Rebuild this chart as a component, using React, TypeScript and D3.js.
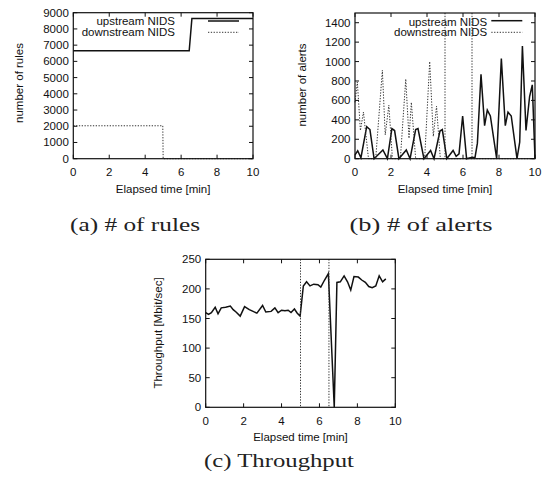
import React from 'react';
import * as d3 from 'd3';

// ---------- data ----------
const timeTicks = [0, 2, 4, 6, 8, 10];
const rulesTicks = [0, 1000, 2000, 3000, 4000, 5000, 6000, 7000, 8000, 9000];
const alertsTicks = [0, 200, 400, 600, 800, 1000, 1200, 1400];
const throughputTicks = [0, 50, 100, 150, 200, 250];

const seriesNames = ['upstream NIDS', 'downstream NIDS'];

const rulesUpT = [0, 6.45, 6.6, 10];
const rulesUpV = [6650, 6650, 8650, 8650];
const rulesDownT = [0, 4.98, 5.0, 10];
const rulesDownV = [2030, 2030, 0, 0];

const alertsUpT = [0, 0.15, 0.33, 0.65, 0.83, 1.06, 1.55, 1.8, 2.05, 2.2, 2.44, 2.85, 3.06, 3.37, 3.5, 3.83, 4.2, 4.39, 4.72, 4.85, 5.1, 5.45, 5.62, 5.78, 5.98, 6.2, 6.4, 6.67, 6.8, 7.0, 7.2, 7.35, 7.52, 7.87, 8.13, 8.35, 8.5, 8.68, 9.0, 9.15, 9.3, 9.5, 9.7, 9.85, 10];
const alertsUpV = [40, 82, 10, 330, 300, 0, 90, 0, 310, 290, 0, 90, 0, 300, 310, 0, 85, 0, 285, 300, 0, 85, 25, 50, 440, 0, 10, 15, 160, 870, 340, 500, 440, 0, 1030, 340, 480, 440, 0, 170, 1160, 290, 640, 760, 0];

const alertsDownT = [0, 0.13, 0.3, 0.47, 0.75, 1.15, 1.52, 1.68, 1.88, 2.08, 2.52, 2.82, 3.0, 3.13, 3.37, 3.87, 4.15, 4.35, 4.53, 4.74, 10];
const alertsDownV = [580, 790, 290, 480, 0, 0, 910, 245, 550, 0, 0, 820, 210, 580, 0, 0, 1000, 230, 540, 0, 0];

const throughputT = [0, 0.15, 0.3, 0.5, 0.65, 0.82, 1.05, 1.3, 1.45, 1.6, 1.82, 2.05, 2.3, 2.5, 2.7, 3.0, 3.17, 3.45, 3.65, 3.82, 4.0, 4.18, 4.35, 4.5, 4.68, 4.83, 4.98, 5.15, 5.32, 5.5, 5.7, 5.92, 6.07, 6.27, 6.47, 6.78, 6.92, 7.1, 7.3, 7.48, 7.65, 7.82, 8.05, 8.23, 8.42, 8.6, 8.78, 8.97, 9.15, 9.33, 9.5];
const throughputV = [160, 157, 160, 169, 158, 168, 169, 171, 165, 161, 154, 170, 165, 162, 159, 172, 161, 162, 168, 160, 164, 163, 164, 160, 166, 159, 154, 205, 212, 205, 208, 207, 203, 215, 226, 0, 211, 212, 222, 212, 198, 221, 220, 215, 211, 204, 202, 205, 222, 212, 217];

const eventTimes = [5, 6.5];

const captions = ['(a) # of rules', '(b) # of alerts', '(c) Throughput'];
const yLabels = ['number of rules', 'number of alerts', 'Throughput [Mbit/sec]'];
const xLabel = 'Elapsed time [min]';

// ---------- styles ----------
const SANS = '"Liberation Sans", Arial, Helvetica, sans-serif';
const SERIF = '"Liberation Serif", "DejaVu Serif", serif';
const FS = 11.5;
const INK = '#111';
const SOLID = { stroke: '#111', width: 1.5, dash: undefined as string | undefined };
const DOTTED = { stroke: '#333', width: 1, dash: '1.3,1.5' };

type Box = { l: number; r: number; t: number; b: number };
type Series = { t: number[]; v: number[]; style: typeof SOLID };
type LegendCfg = { textEnd: number; sx0: number; sx1: number; rows: { ty: number; ly: number }[] };

function Panel(props: {
  box: Box;
  yMax: number;
  yTicks: number[];
  yLabel: string;
  yLabelX: number;
  yLabelY: number;
  series: Series[];
  events?: number[];
  legend?: LegendCfg;
}) {
  const { box, yMax, yTicks, yLabel, yLabelX, yLabelY, series, events, legend } = props;
  const x = d3.scaleLinear().domain([0, 10]).range([box.l, box.r]);
  const y = d3.scaleLinear().domain([0, yMax]).range([box.b, box.t]);
  const tick = 4;
  return (
    <g>
      {series.map((s, i) => {
        const pts: [number, number][] = s.t.map((t, k) => [t, s.v[k]]);
        const line = d3
          .line<[number, number]>()
          .x((d) => x(d[0]))
          .y((d) => y(d[1]));
        return (
          <path
            key={i}
            d={line(pts) || ''}
            fill="none"
            stroke={s.style.stroke}
            strokeWidth={s.style.width}
            strokeDasharray={s.style.dash}
            strokeLinejoin="miter"
          />
        );
      })}
      {(events || []).map((e, i) => (
        <line
          key={'ev' + i}
          x1={x(e)}
          x2={x(e)}
          y1={box.t}
          y2={box.b}
          stroke={DOTTED.stroke}
          strokeWidth={1}
          strokeDasharray={DOTTED.dash}
        />
      ))}
      <rect x={box.l} y={box.t} width={box.r - box.l} height={box.b - box.t} fill="none" stroke={INK} strokeWidth={1.2} />
      {timeTicks.map((tv) => (
        <g key={'xt' + tv}>
          <line x1={x(tv)} x2={x(tv)} y1={box.b} y2={box.b - tick} stroke={INK} strokeWidth={1} />
          <line x1={x(tv)} x2={x(tv)} y1={box.t} y2={box.t + tick} stroke={INK} strokeWidth={1} />
          <text x={x(tv)} y={box.b + 17.5} textAnchor="middle" fontFamily={SANS} fontSize={FS} fill={INK}>
            {tv}
          </text>
        </g>
      ))}
      {yTicks.map((tv) => (
        <g key={'yt' + tv}>
          <line x1={box.l} x2={box.l + tick} y1={y(tv)} y2={y(tv)} stroke={INK} strokeWidth={1} />
          <line x1={box.r} x2={box.r - tick} y1={y(tv)} y2={y(tv)} stroke={INK} strokeWidth={1} />
          <text x={box.l - 4.5} y={y(tv) + 4} textAnchor="end" fontFamily={SANS} fontSize={FS} fill={INK}>
            {tv}
          </text>
        </g>
      ))}
      <text x={(box.l + box.r) / 2} y={box.b + 34} textAnchor="middle" fontFamily={SANS} fontSize={FS} fill={INK}>
        {xLabel}
      </text>
      <text
        transform={`translate(${yLabelX},${yLabelY}) rotate(-90)`}
        textAnchor="middle"
        fontFamily={SANS}
        fontSize={FS}
        fill={INK}
      >
        {yLabel}
      </text>
      {legend &&
        legend.rows.map((row, i) => (
          <g key={'lg' + i}>
            <text x={legend.textEnd} y={row.ty} textAnchor="end" fontFamily={SANS} fontSize={FS} fill={INK}>
              {seriesNames[i]}
            </text>
            <line
              x1={legend.sx0}
              x2={legend.sx1}
              y1={row.ly}
              y2={row.ly}
              stroke={series[i].style.stroke}
              strokeWidth={series[i].style.width}
              strokeDasharray={series[i].style.dash}
            />
          </g>
        ))}
    </g>
  );
}

export default function App() {
  const boxA = { l: 73.3, r: 253, t: 12.7, b: 158.7 };
  const boxB = { l: 355, r: 535, t: 13, b: 158.7 };
  const boxC = { l: 205.7, r: 395.3, t: 259.3, b: 407.3 };
  return (
    <svg width={548} height={483} style={{ position: 'absolute', left: 0, top: 0, background: '#fff' }}>
      <rect x={0} y={0} width={548} height={483} fill="#fff" />
      <Panel
        box={boxA}
        yMax={9000}
        yTicks={rulesTicks}
        yLabel={yLabels[0]}
        yLabelX={22.5}
        yLabelY={83}
        series={[
          { t: rulesUpT, v: rulesUpV, style: SOLID },
          { t: rulesDownT, v: rulesDownV, style: DOTTED },
        ]}
        legend={{ textEnd: 175, sx0: 208, sx1: 239, rows: [{ ty: 25.3, ly: 21 }, { ty: 35.8, ly: 32.3 }] }}
      />
      <Panel
        box={boxB}
        yMax={1500}
        yTicks={alertsTicks}
        yLabel={yLabels[1]}
        yLabelX={306}
        yLabelY={85}
        series={[
          { t: alertsUpT, v: alertsUpV, style: SOLID },
          { t: alertsDownT, v: alertsDownV, style: DOTTED },
        ]}
        events={eventTimes}
        legend={{ textEnd: 487.3, sx0: 491.3, sx1: 522.3, rows: [{ ty: 25.5, ly: 20.7 }, { ty: 36, ly: 32.3 }] }}
      />
      <Panel
        box={boxC}
        yMax={250}
        yTicks={throughputTicks}
        yLabel={yLabels[2]}
        yLabelX={162}
        yLabelY={333}
        series={[{ t: throughputT, v: throughputV, style: SOLID }]}
        events={eventTimes}
      />
      <text x={135} y={231} textAnchor="middle" fontFamily={SERIF} fontSize={18} fill="#222" textLength={130} lengthAdjust="spacingAndGlyphs">
        {captions[0]}
      </text>
      <text x={421} y={231} textAnchor="middle" fontFamily={SERIF} fontSize={18} fill="#222" textLength={143} lengthAdjust="spacingAndGlyphs">
        {captions[1]}
      </text>
      <text x={279} y={467} textAnchor="middle" fontFamily={SERIF} fontSize={18} fill="#222" textLength={150} lengthAdjust="spacingAndGlyphs">
        {captions[2]}
      </text>
    </svg>
  );
}
